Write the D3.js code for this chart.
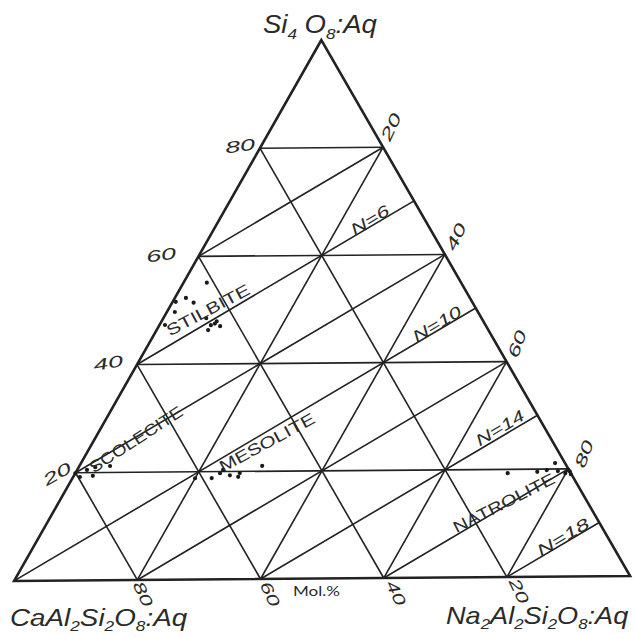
<!DOCTYPE html>
<html>
<head>
<meta charset="utf-8">
<script src="https://cdn.jsdelivr.net/npm/d3@7/dist/d3.min.js"></script>
<style>
html,body{margin:0;padding:0;background:#fff;}
svg{display:block;}
</style>
</head>
<body>
<svg id="chart" width="636" height="638"></svg>
<script>
// ================= DATA =================
const gridLevels = [20, 40, 60, 80];                 // Mol.% grid for each component
const perpStops = [20, 30, 40, 50, 60, 70, 80, 90];  // Na2Al2Si2O8 % on right side where the N-lines end
const nLineStops = [30, 50, 70, 90];
const nLineLabels = ["N=6", "N=10", "N=14", "N=18"];
const leftTickLabels = ["20", "40", "60", "80"];     // Si4O8 %
const rightTickLabels = ["20", "40", "60", "80"];    // Na2Al2Si2O8 %
const bottomTickLabels = ["80", "60", "40", "20"];   // CaAl2Si2O8 %
const mineralNames = ["STILBITE", "SCOLECITE", "MESOLITE", "NATROLITE"];
// analyses as [Si4O8 %, Na2Al2Si2O8 %]  (CaAl2Si2O8 % = 100 - both)
const stilbite = [[55.1, 3.8], [51.6, 0.5], [52.3, 1.8], [51.4, 3.5], [49.7, 1.3], [47.3, 0.9],
                  [46.3, 8.4], [47.5, 8.9], [47.9, 9.0], [47.0, 10.0], [47.2, 8.4], [48.5, 7.0]];
const scolecite = [[19.9, 0.0], [19.2, 1.1], [20.5, 1.6], [19.4, 3.1], [21.0, 2.7], [21.2, 5.0]];
const mesolite = [[18.8, 20.0], [18.8, 22.7], [19.7, 23.6], [20.3, 23.8], [19.3, 25.4],
                  [19.0, 26.9], [19.7, 26.8], [21.0, 29.8]];
const natrolite = [[19.3, 70.5], [19.5, 75.2], [19.8, 76.6], [21.1, 77.3], [19.6, 78.5],
                   [19.2, 79.9], [19.8, 80.1], [19.0, 80.9], [19.5, 80.5]];

// ================= LAYOUT =================
const svg = d3.select("#chart");
const ink = "#222";
const tilt = -0.45, cx = 322, cy = 310;   // the original scan is slightly rotated

const ySi = d3.scaleLinear().domain([0, 100]).range([578.5, 40]);
const xSi = d3.scaleLinear().domain([0, 100]).range([12, 323.5]);
const xNa = d3.scaleLinear().domain([0, 100]).range([0, 616]);
const P = (si, na) => [xSi(si) + xNa(na), ySi(si)];

const plot = svg.append("g").attr("transform", `rotate(${tilt},${cx},${cy})`);
const lineGen = d3.line();

// grid lines
const segs = [];
gridLevels.forEach(k => {
  segs.push([P(k, 0), P(k, 100 - k)]);          // constant Si4O8
  segs.push([P(0, k), P(100 - k, k)]);          // constant Na2Al2Si2O8
  segs.push([P(100 - k, 0), P(0, 100 - k)]);    // constant CaAl2Si2O8
});
perpStops.forEach(t => {
  const end = P(100 - t, t);
  const start = t <= 50 ? P(100 - 2 * t, 0) : P(0, 2 * t - 100);
  segs.push([start, end]);
});
plot.append("g").selectAll("path").data(segs).join("path")
  .attr("d", d => lineGen(d))
  .attr("fill", "none").attr("stroke", ink).attr("stroke-width", 1.6);

// SCOLECITE label interrupts its line
const scolLine = [P(20, 0), P(60, 40)];
const ip = d3.interpolateArray(scolLine[0], scolLine[1]);
plot.append("path").attr("d", lineGen([ip(0.035), ip(0.27)]))
  .attr("stroke", "#fff").attr("stroke-width", 4).attr("fill", "none");

// triangle
plot.append("path")
  .attr("d", lineGen([P(100, 0), P(0, 0), P(0, 100)]) + "Z")
  .attr("fill", "none").attr("stroke", ink).attr("stroke-width", 2.6)
  .attr("stroke-linejoin", "miter");

// points
const allPts = [].concat(stilbite, scolecite, mesolite, natrolite);
plot.append("g").selectAll("circle").data(allPts).join("circle")
  .attr("cx", d => P(d[0], d[1])[0])
  .attr("cy", d => P(d[0], d[1])[1])
  .attr("r", 2.1).attr("fill", "#1a1a1a");

// ================= TEXT =================
const labels = svg.append("g").attr("fill", "#2a2a2a");
function txt(str, x, y, rot, size, len, opts = {}) {
  const t = labels.append("text")
    .attr("transform", `translate(${x},${y}) rotate(${rot})`)
    .attr("text-anchor", "middle")
    .attr("dominant-baseline", "central")
    .attr("font-family", opts.family || "'Liberation Sans', Arial, sans-serif")
    .attr("font-style", opts.italic ? "italic" : "normal")
    .attr("font-size", size)
    .text(str);
  if (len) t.attr("textLength", len).attr("lengthAdjust", "spacingAndGlyphs");
  return t;
}

// tick labels (hand-lettered)
const leftPos = [[57, 474, -30], [108, 363, -10], [161, 255, -8], [240, 146, -8]];
leftTickLabels.forEach((s, i) => txt(s, leftPos[i][0], leftPos[i][1], leftPos[i][2], 16, 30, {italic: true}));
const rightPos = [[391, 127, -65], [456, 237, -65], [517, 344, -70], [584, 454, -70]];
rightTickLabels.forEach((s, i) => txt(s, rightPos[i][0], rightPos[i][1], rightPos[i][2], 16, 28, {italic: true}));
const bottomPos = [[143, 594, 65], [270, 594, 65], [396, 593, 65], [519, 591, 65]];
bottomTickLabels.forEach((s, i) => txt(s, bottomPos[i][0], bottomPos[i][1], bottomPos[i][2], 16, 26, {italic: true}));

// N lines labels
const nPos = [[370, 220, -31, 42], [437, 324, -31, 54], [500, 428, -31, 54], [563, 537, -31, 58]];
nLineLabels.forEach((s, i) => txt(s, nPos[i][0], nPos[i][1], nPos[i][2], 16, nPos[i][3], {italic: true}));

// mineral names
const minPos = [[208, 310, -28, 92], [136, 439.5, -33, 108], [267, 442.5, -28.5, 106], [504, 503, -27, 112]];
mineralNames.forEach((s, i) => txt(s, minPos[i][0], minPos[i][1], minPos[i][2], 16, minPos[i][3]));

// Mol.%
labels.append("text").attr("x", 293).attr("y", 596)
  .attr("font-family", "Lato, 'Open Sans', sans-serif").attr("font-size", 13)
  .attr("textLength", 47).attr("lengthAdjust", "spacingAndGlyphs").text("Mol.%");

// formulas (fitted to the width they take in the original)
function formula(parts, x, y, size, width) {
  const g = labels.append("g");
  const t = g.append("text")
    .attr("font-family", "'Liberation Sans', Arial, sans-serif")
    .attr("font-style", "italic").attr("font-size", size);
  let shifted = false;
  const sh = size * 0.22;
  parts.forEach(p => {
    if (p.sub) {
      t.append("tspan").attr("font-size", size * 0.62).attr("dy", shifted ? 0 : sh).text(p.sub);
      shifted = true;
    } else {
      t.append("tspan").attr("dy", shifted ? -sh : 0).text(p.t);
      shifted = false;
    }
  });
  const w = t.node().getBBox().width || width;
  g.attr("transform", `translate(${x},${y}) scale(${width / w},1)`);
  return g;
}
formula([{t: "Si"}, {sub: "4"}, {t: " O"}, {sub: "8"}, {t: ":Aq"}], 263, 33, 25, 114);
formula([{t: "CaAl"}, {sub: "2"}, {t: "Si"}, {sub: "2"}, {t: "O"}, {sub: "8"}, {t: ":Aq"}], 10, 626, 24, 178);
formula([{t: "Na"}, {sub: "2"}, {t: "Al"}, {sub: "2"}, {t: "Si"}, {sub: "2"}, {t: "O"}, {sub: "8"}, {t: ":Aq"}], 446, 624, 24, 183);
</script>
</body>
</html>
